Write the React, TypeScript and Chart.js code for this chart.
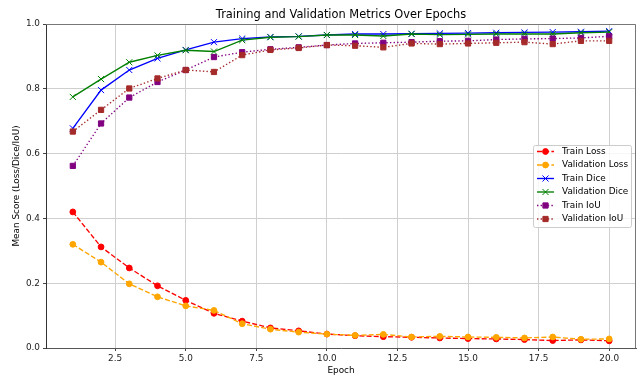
import React, { useEffect, useRef } from 'react';
import { Chart, registerables } from 'chart.js';

Chart.register(...registerables);

const epochs = [1, 2, 3, 4, 5, 6, 7, 8, 9, 10, 11, 12, 13, 14, 15, 16, 17, 18, 19, 20];
const trainLoss = [0.42, 0.312, 0.247, 0.192, 0.147, 0.107, 0.083, 0.062, 0.053, 0.043, 0.038, 0.035, 0.033, 0.031, 0.029, 0.028, 0.026, 0.023, 0.025, 0.022];
const valLoss = [0.32, 0.265, 0.198, 0.158, 0.13, 0.116, 0.075, 0.058, 0.049, 0.043, 0.039, 0.042, 0.034, 0.036, 0.034, 0.033, 0.031, 0.034, 0.027, 0.028];
const trainDice = [0.678, 0.796, 0.858, 0.894, 0.92, 0.944, 0.955, 0.96, 0.962, 0.966, 0.969, 0.969, 0.97, 0.971, 0.972, 0.973, 0.974, 0.975, 0.976, 0.978];
const valDice = [0.775, 0.83, 0.882, 0.903, 0.919, 0.915, 0.95, 0.959, 0.961, 0.966, 0.966, 0.963, 0.969, 0.967, 0.968, 0.969, 0.969, 0.969, 0.973, 0.975];
const trainIoU = [0.562, 0.693, 0.773, 0.821, 0.858, 0.898, 0.913, 0.922, 0.928, 0.935, 0.94, 0.942, 0.944, 0.947, 0.948, 0.952, 0.954, 0.955, 0.957, 0.962];
const valIoU = [0.668, 0.735, 0.801, 0.832, 0.858, 0.852, 0.904, 0.92, 0.926, 0.935, 0.933, 0.928, 0.94, 0.938, 0.94, 0.942, 0.944, 0.938, 0.948, 0.948];

const seriesLabels = ['Train Loss', 'Validation Loss', 'Train Dice', 'Validation Dice', 'Train IoU', 'Validation IoU'];
const seriesValues = [trainLoss, valLoss, trainDice, valDice, trainIoU, valIoU];
const seriesColors = ['#ff0000', '#ffa500', '#0000ff', '#008000', '#800080', '#a52a2a'];
const seriesDash = [[5, 2.2], [5, 2.2], [], [], [1.4, 2.2], [1.4, 2.2]];
const seriesMarkers = ['circle', 'circle', 'crossRot', 'crossRot', 'rect', 'rect'];
const seriesRadius = [2.9, 2.9, 4.3, 4.3, 3.7, 3.7];

const xTicks = [2.5, 5, 7.5, 10, 12.5, 15, 17.5, 20];
const yTicks = [0, 0.2, 0.4, 0.6, 0.8, 1.0];

const chartTitle = 'Training and Validation Metrics Over Epochs';
const xTitle = 'Epoch';
const yTitle = 'Mean Score (Loss/Dice/IoU)';

const FONT = '"DejaVu Sans", sans-serif';

function drawMarker(ctx: CanvasRenderingContext2D, style: string, x: number, y: number, r: number, color: string) {
  ctx.save();
  ctx.setLineDash([]);
  ctx.fillStyle = color;
  ctx.strokeStyle = color;
  ctx.lineWidth = 1;
  ctx.beginPath();
  if (style === 'circle') {
    ctx.arc(x, y, r, 0, Math.PI * 2);
    ctx.fill();
    ctx.stroke();
  } else if (style === 'rect') {
    const s = Math.SQRT1_2 * r;
    ctx.rect(x - s, y - s, 2 * s, 2 * s);
    ctx.fill();
    ctx.stroke();
  } else {
    const o = Math.SQRT1_2 * r;
    ctx.moveTo(x - o, y - o);
    ctx.lineTo(x + o, y + o);
    ctx.moveTo(x - o, y + o);
    ctx.lineTo(x + o, y - o);
    ctx.stroke();
  }
  ctx.restore();
}

const decorPlugin = {
  id: 'decor',
  afterDraw(chart: any) {
    const ctx: CanvasRenderingContext2D = chart.ctx;
    const a = chart.chartArea;
    ctx.save();
    // top/right spines
    ctx.strokeStyle = '#777777';
    ctx.lineWidth = 1;
    ctx.setLineDash([]);
    ctx.beginPath();
    ctx.moveTo(a.left, a.top + 0.5);
    ctx.lineTo(a.right - 0.5, a.top + 0.5);
    ctx.lineTo(a.right - 0.5, a.bottom);
    ctx.stroke();
    // title
    ctx.fillStyle = '#000';
    ctx.font = `11.4px ${FONT}`;
    ctx.textAlign = 'center';
    ctx.textBaseline = 'middle';
    ctx.fillText(chartTitle, (a.left + a.right) / 2, 15);
    // legend
    const bx = 533.5, by = 145.5, bw = 98, bh = 82;
    ctx.fillStyle = 'rgba(255,255,255,0.8)';
    ctx.strokeStyle = '#cccccc';
    ctx.beginPath();
    const rr = 2;
    ctx.moveTo(bx + rr, by);
    ctx.arcTo(bx + bw, by, bx + bw, by + bh, rr);
    ctx.arcTo(bx + bw, by + bh, bx, by + bh, rr);
    ctx.arcTo(bx, by + bh, bx, by, rr);
    ctx.arcTo(bx, by, bx + bw, by, rr);
    ctx.closePath();
    ctx.fill();
    ctx.stroke();
    ctx.font = `8.9px ${FONT}`;
    ctx.textAlign = 'left';
    ctx.textBaseline = 'middle';
    for (let i = 0; i < seriesLabels.length; i++) {
      const yy = 151.5 + i * 13.5;
      ctx.strokeStyle = seriesColors[i];
      ctx.lineWidth = 1.35;
      ctx.setLineDash(seriesDash[i]);
      ctx.beginPath();
      ctx.moveTo(537, yy);
      ctx.lineTo(554, yy);
      ctx.stroke();
      drawMarker(ctx, seriesMarkers[i], 545.5, yy, seriesRadius[i], seriesColors[i]);
      ctx.fillStyle = '#000';
      ctx.fillText(seriesLabels[i], 562, yy);
    }
    ctx.restore();
  },
};

export default function App() {
  const ref = useRef<HTMLCanvasElement | null>(null);
  useEffect(() => {
    if (!ref.current) return;
    const datasets = seriesLabels.map((label, i) => ({
      label,
      data: epochs.map((e, j) => ({ x: e, y: seriesValues[i][j] })),
      borderColor: seriesColors[i],
      backgroundColor: seriesColors[i],
      borderWidth: 1.35,
      borderDash: seriesDash[i],
      pointStyle: seriesMarkers[i] as any,
      pointRadius: seriesRadius[i],
      pointBorderWidth: 1,
      pointBackgroundColor: seriesColors[i],
      pointBorderColor: seriesColors[i],
      tension: 0,
      fill: false,
      clip: false as any,
      order: seriesLabels.length - 1 - i,
    }));
    const chart = new Chart(ref.current, {
      type: 'line',
      data: { datasets },
      options: {
        animation: false,
        responsive: false,
        events: [],
        layout: { autoPadding: false, padding: { top: 24, right: 1, left: 0, bottom: 0 } },
        plugins: {
          legend: { display: false },
          title: { display: false },
          tooltip: { enabled: false },
        },
        scales: {
          x: {
            type: 'linear',
            min: 0.05,
            max: 20.95,
            afterFit: (s: any) => { s.height = 29; s.paddingRight = 0; s.paddingLeft = 0; },
            afterBuildTicks: (s: any) => { s.ticks = xTicks.map((v) => ({ value: v })); },
            ticks: {
              font: { family: FONT, size: 8.9 },
              color: '#222',
              padding: 2,
              maxRotation: 0,
              autoSkip: false,
              callback: (v: any) => Number(v).toFixed(1),
            },
            grid: { color: '#cfcfcf', lineWidth: 1, tickLength: 3, tickColor: '#444', drawOnChartArea: true },
            border: { color: '#555', width: 1 },
            title: { display: true, text: xTitle, font: { family: FONT, size: 8.9 }, color: '#000', padding: { top: 0, bottom: 1 } },
          },
          y: {
            type: 'linear',
            min: 0,
            max: 1,
            afterFit: (s: any) => { s.width = 46; s.paddingTop = 0; s.paddingBottom = 0; },
            afterBuildTicks: (s: any) => { s.ticks = yTicks.map((v) => ({ value: v })); },
            ticks: {
              font: { family: FONT, size: 8.9 },
              color: '#222',
              padding: 3,
              autoSkip: false,
              callback: (v: any) => Number(v).toFixed(1),
            },
            grid: { color: '#cfcfcf', lineWidth: 1, tickLength: 3, tickColor: '#444' },
            border: { color: '#333', width: 1 },
            title: { display: true, text: yTitle, font: { family: FONT, size: 8.9 }, color: '#000', padding: { top: 11, bottom: 0 } },
          },
        },
      },
      plugins: [decorPlugin],
    });
    return () => chart.destroy();
  }, []);
  return (
    <div style={{ position: 'fixed', left: 0, top: 0, width: 637, height: 377, background: '#fff' }}>
      <canvas ref={ref} width={637} height={377} style={{ width: 637, height: 377, display: 'block' }} />
    </div>
  );
}
